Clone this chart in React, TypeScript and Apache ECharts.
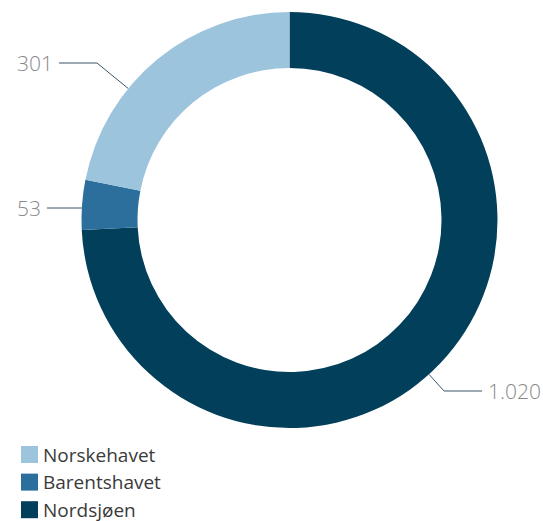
import React, { useEffect, useRef } from "react";
import * as echarts from "echarts";

const categories = ["Nordsjøen", "Barentshavet", "Norskehavet"];
const values = [1020, 53, 301];
const legendOrder = ["Norskehavet", "Barentshavet", "Nordsjøen"];
const colors = ["#023f5a", "#2c6f9d", "#9dc4dd"];

// layout / styling constants
const CX = 289.5;
const CY = 220;
const R_IN = 152;
const R_OUT = 208;
const LEN2 = 38;
const GAP = 6;
const labelPlacement = [
  { x: 541, y: 391, align: "right" },
  { x: 17, y: 208, align: "left" },
  { x: 17, y: 63, align: "left" },
];

const fmt = (n: number) => String(n).replace(/\B(?=(\d{3})+(?!\d))/g, ".");

export default function App() {
  const ref = useRef<HTMLDivElement>(null);
  useEffect(() => {
    if (!ref.current) return;
    const chart = echarts.init(ref.current, null, { renderer: "svg" });
    chart.setOption({
      animation: false,
      backgroundColor: "#ffffff",
      legend: {
        orient: "vertical",
        left: 16,
        top: 440,
        height: 120,
        data: legendOrder,
        icon: "rect",
        itemWidth: 17,
        itemHeight: 17,
        itemGap: 8.6,
        selectedMode: false,
        textStyle: {
          fontFamily: "Open Sans",
          fontSize: 19,
          color: "#3a3a3a",
        },
      },
      series: [
        {
          type: "pie",
          center: [CX, CY],
          radius: [R_IN, R_OUT],
          startAngle: 90,
          clockwise: true,
          avoidLabelOverlap: false,
          emphasis: { disabled: true },
          data: categories.map((c, i) => ({
            name: c,
            value: values[i],
            itemStyle: { color: colors[i] },
          })),
          label: {
            show: true,
            position: "outside",
            formatter: (p: any) => fmt(p.value),
            fontFamily: "Open Sans",
            fontWeight: 300,
            fontSize: 21,
            color: "#888888",
          },
          labelLine: {
            show: true,
            length: 20,
            length2: LEN2,
            lineStyle: { color: "#3b5566", width: 1 },
          },
          labelLayout: (params: any) => {
            const p = labelPlacement[params.dataIndex];
            const w = params.labelRect.width;
            const y = p.y;
            let x0: number;
            let x1: number;
            if (p.align === "left") {
              x0 = p.x + w + GAP;
              x1 = x0 + LEN2;
            } else {
              x0 = p.x - w - GAP;
              x1 = x0 - LEN2;
            }
            const dx = x1 - CX;
            const dy = y - CY;
            const d = Math.sqrt(dx * dx + dy * dy);
            let pt1: number[];
            let pt2: number[];
            if (d <= R_OUT) {
              const side = p.align === "left" ? -1 : 1;
              const xe = CX + side * Math.sqrt(R_OUT * R_OUT - dy * dy);
              pt1 = [xe, y];
              pt2 = [xe, y];
            } else {
              pt1 = [x1, y];
              pt2 = [CX + (dx * R_OUT) / d, CY + (dy * R_OUT) / d];
            }
            return {
              x: p.x,
              y,
              align: p.align,
              verticalAlign: "middle",
              labelLinePoints: [pt2, pt1, [x0, y]],
            };
          },
        },
      ],
    });
    return () => chart.dispose();
  }, []);
  return (
    <div
      ref={ref}
      style={{ position: "absolute", left: 0, top: 0, width: 543, height: 521 }}
    />
  );
}
